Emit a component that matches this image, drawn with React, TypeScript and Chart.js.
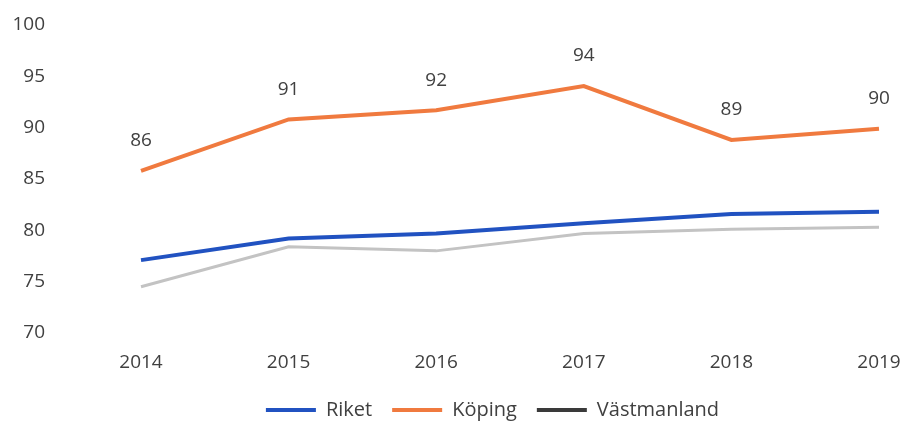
import React, { useEffect, useRef } from "react";
import { Chart, registerables } from "chart.js";

Chart.register(...registerables);

const years = ["2014", "2015", "2016", "2017", "2018", "2019"];
const riket = [77.1, 79.2, 79.7, 80.7, 81.6, 81.8];
const koping = [85.8, 90.8, 91.7, 94.05, 88.8, 89.9];
const vastmanland = [74.5, 78.4, 78.0, 79.7, 80.1, 80.3];
const yMin = 70;
const yMax = 100;
const yStep = 5;

const FONT = "'Open Sans', 'Noto Sans', sans-serif";
const TEXT = "#404040";

const valueLabels = {
  id: "valueLabels",
  afterDatasetsDraw(chart: any) {
    const ctx = chart.ctx;
    const meta = chart.getDatasetMeta(1);
    const ds = chart.data.datasets[1];
    ctx.save();
    ctx.font = `19px ${FONT}`;
    ctx.fillStyle = TEXT;
    ctx.textAlign = "center";
    ctx.textBaseline = "middle";
    meta.data.forEach((pt: any, i: number) => {
      ctx.fillText(String(Math.round(ds.data[i])), pt.x, pt.y - 30);
    });
    ctx.restore();
  },
};

const legendShift = {
  id: "legendShift",
  afterLayout(chart: any) {
    if (chart.legend) {
      chart.legend.left += 49;
      chart.legend.right += 49;
    }
  },
};

export default function App() {
  const ref = useRef<HTMLCanvasElement>(null);
  useEffect(() => {
    document.documentElement.style.overflow = "hidden";
    if (!ref.current) return;
    const chart = new Chart(ref.current, {
      type: "line",
      data: {
        labels: years,
        datasets: [
          { label: "Riket", data: riket, borderColor: "#2152C1", backgroundColor: "#2152C1", borderWidth: 4, pointRadius: 0, tension: 0 },
          { label: "Köping", data: koping, borderColor: "#F07A3F", backgroundColor: "#F07A3F", borderWidth: 4, pointRadius: 0, tension: 0 },
          { label: "Västmanland", data: vastmanland, borderColor: "#C3C3C3", backgroundColor: "#3A3A3A", borderWidth: 3, pointRadius: 0, tension: 0 },
        ],
      },
      options: {
        responsive: false,
        animation: false,
        layout: { padding: { top: 17, right: 21, bottom: -5, left: 0 } },
        plugins: {
          tooltip: { enabled: false },
          legend: {
            position: "bottom",
            labels: {
              boxWidth: 50,
              boxHeight: 4,
              padding: 20,
              color: TEXT,
              font: { family: FONT, size: 20 },
              generateLabels(chart: any) {
                const cols = ["#2152C1", "#F07A3F", "#3A3A3A"];
                return chart.data.datasets.map((d: any, i: number) => ({
                  text: d.label,
                  fillStyle: cols[i],
                  strokeStyle: cols[i],
                  lineWidth: 0,
                  hidden: false,
                  datasetIndex: i,
                  fontColor: TEXT,
                }));
              },
            },
          },
        },
        scales: {
          x: {
            offset: false,
            grid: { display: false, drawTicks: false },
            border: { display: false },
            ticks: { color: TEXT, font: { family: FONT, size: 19 }, padding: 18, maxRotation: 0 },
            afterFit(scale: any) {
              scale.paddingLeft = 0;
              scale.paddingRight = 0;
              scale.height = 47;
            },
          },
          y: {
            min: yMin,
            max: yMax,
            grid: { display: false, drawTicks: false },
            border: { display: false },
            ticks: { stepSize: yStep, color: TEXT, font: { family: FONT, size: 19 }, padding: 96 },
            afterFit(scale: any) {
              scale.width = 133;
              scale.paddingTop = 0;
              scale.paddingBottom = 0;
            },
          },
        },
      },
      plugins: [valueLabels, legendShift],
    });
    return () => chart.destroy();
  }, []);
  return (
    <div style={{ width: 892, height: 417 }}>
      <canvas ref={ref} width={892} height={417} style={{ width: 892, height: 417, display: "block" }} />
    </div>
  );
}
